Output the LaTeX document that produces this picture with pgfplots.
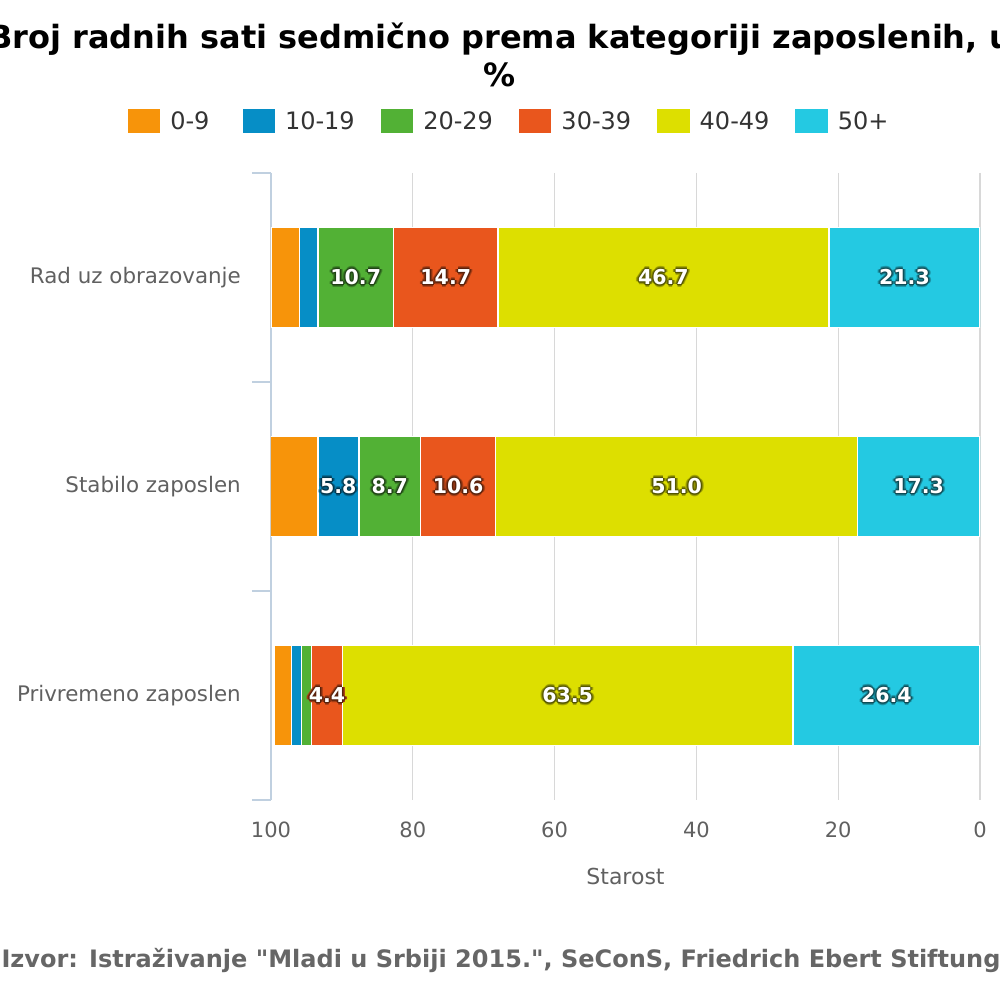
\documentclass[border=0pt]{standalone}
\usepackage{pgfplots}
\pgfplotsset{compat=1.18}
\usepackage{pgfplotstable}
\usepackage{fontspec}
\setmainfont{DejaVu Sans}
\definecolor{c09}{HTML}{F7940A}
\definecolor{c1019}{HTML}{068EC6}
\definecolor{c2029}{HTML}{52B135}
\definecolor{c3039}{HTML}{E9561D}
\definecolor{c4049}{HTML}{DDDF00}
\definecolor{c50}{HTML}{24C9E2}
\definecolor{axc}{HTML}{C0D0E0}
\definecolor{gridc}{HTML}{D8D8D8}
\definecolor{labc}{HTML}{606060}
\definecolor{legc}{HTML}{333333}
\definecolor{srcc}{HTML}{666666}

\newcommand\dq{\XeTeXglyph\XeTeXcharglyph"22\relax}
\newcommand\hcopy[2]{\makebox[0pt][l]{\kern#1\raisebox{#2}{\copy0}}}
\newcommand\ring[1]{\hcopy{#1}{0pt}\hcopy{-#1}{0pt}\hcopy{0pt}{#1}\hcopy{0pt}{-#1}%
\hcopy{.7#1}{.7#1}\hcopy{-.7#1}{.7#1}\hcopy{.7#1}{-.7#1}\hcopy{-.7#1}{-.7#1}}
\newcommand\halo[2]{\setbox0\hbox{#2}%
{\color{#1!75!black}\ring{3pt}}%
{\color{#1!55!black}\ring{2pt}}%
{\color{#1!38!black}\ring{1pt}}%
\copy0}

\pgfplotstableread{
y v lab
0 21.3 21.3
1 17.3 17.3
2 26.4 26.4
}\tfifty
\pgfplotstableread{
y v lab
0 46.7 46.7
1 51.0 51.0
2 63.5 63.5
}\tforty
\pgfplotstableread{
y v lab
0 14.7 14.7
1 10.6 10.6
2 4.4 4.4
}\tthirty
\pgfplotstableread{
y v lab
0 10.7 10.7
1 8.7 8.7
2 1.4 {}
}\ttwenty
\pgfplotstableread{
y v lab
0 2.6 {}
1 5.8 5.8
2 1.4 {}
}\tten
\pgfplotstableread{
y v lab
0 4.0 {}
1 6.7 6.7
2 2.4 {}
}\tzero

\pgfplotsset{
  mybar/.style={
    fill=#1, draw=white, line width=1.5pt,
    legend image code/.code={\fill[#1] (0pt,-11pt) rectangle (31pt,11pt);},
    point meta=explicit symbolic,
    nodes near coords={\halo{#1}{\pgfplotspointmeta}},
    every node near coord/.append style={anchor=center, text=white,
      font=\bfseries\fontsize{20.5}{20.5}\selectfont, inner sep=0pt},
  },
}

\begin{document}
\begin{tikzpicture}
\path[use as bounding box] (0pt,0pt) rectangle (1000pt,1000pt);
\node[anchor=base, font=\bfseries\fontsize{32}{38}\selectfont] at (500pt,951pt)
  {Broj radnih sati sedmično prema kategoriji zaposlenih, u};
\node[anchor=base, font=\bfseries\fontsize{32}{38}\selectfont] at (500pt,913pt) {\%};
\begin{axis}[
  at={(271pt,200pt)}, anchor=south west,
  scale only axis, width=709pt, height=627pt,
  xbar stacked, bar width=100pt,
  xmin=0, xmax=100, x dir=reverse,
  ymin=-0.5, ymax=2.5, y dir=reverse,
  ytick={0,1,2},
  yticklabels={Rad uz obrazovanje, Stabilo zaposlen, Privremeno zaposlen},
  minor ytick={-0.5,0.5,1.5,2.5},
  xtick={0,20,...,100},
  tick align=outside,
  major tick length=0pt, minor tick length=19pt,
  minor tick style={axc, line width=1.3pt},
  ytick pos=left, xtick pos=bottom,
  axis line style={draw=none},
  xmajorgrids, grid style={gridc, line width=1.3pt},
  extra x ticks={100}, extra x tick labels={},
  extra x tick style={grid style={axc, line width=1.3pt}},
  /pgf/number format/assume math mode=true,
  ticklabel style={text=labc},
  yticklabel style={inner sep=0pt, xshift=-30pt, anchor=east, font=\fontsize{21.4}{26}\selectfont},
  xticklabel style={inner sep=0pt, yshift=-22pt, anchor=north, font=\fontsize{21}{26}\selectfont},
  xlabel={Starost},
  every axis x label/.style={at={(axis description cs:0.5,-0.1212)}, anchor=center,
    font=\fontsize{22}{26}\selectfont, text=labc},
  legend columns=6, reverse legend,
  legend style={at={(axis description cs:0.336,1.0829)}, anchor=center,
    draw=none, fill=none, font=\fontsize{24}{28}\selectfont, text=legc,
    /tikz/every odd column/.append style={column sep=8pt},
    /tikz/every even column/.append style={column sep=24pt}},
]
\addplot[mybar=c50] table[x=v, y=y, meta=lab] {\tfifty};
\addlegendentry{50+}
\addplot[mybar=c4049] table[x=v, y=y, meta=lab] {\tforty};
\addlegendentry{40-49}
\addplot[mybar=c3039] table[x=v, y=y, meta=lab] {\tthirty};
\addlegendentry{30-39}
\addplot[mybar=c2029] table[x=v, y=y, meta=lab] {\ttwenty};
\addlegendentry{20-29}
\addplot[mybar=c1019] table[x=v, y=y, meta=lab] {\tten};
\addlegendentry{10-19}
\addplot[mybar=c09] table[x=v, y=y, meta=lab] {\tzero};
\addlegendentry{0-9\hspace*{7pt}}
\end{axis}
\node[anchor=base, font=\bfseries\fontsize{24}{28}\selectfont, text=srcc] at (501pt,32pt)
  {Izvor: Istraživanje \dq Mladi u Srbiji 2015.\dq, SeConS, Friedrich Ebert Stiftung};
\end{tikzpicture}
\end{document}
